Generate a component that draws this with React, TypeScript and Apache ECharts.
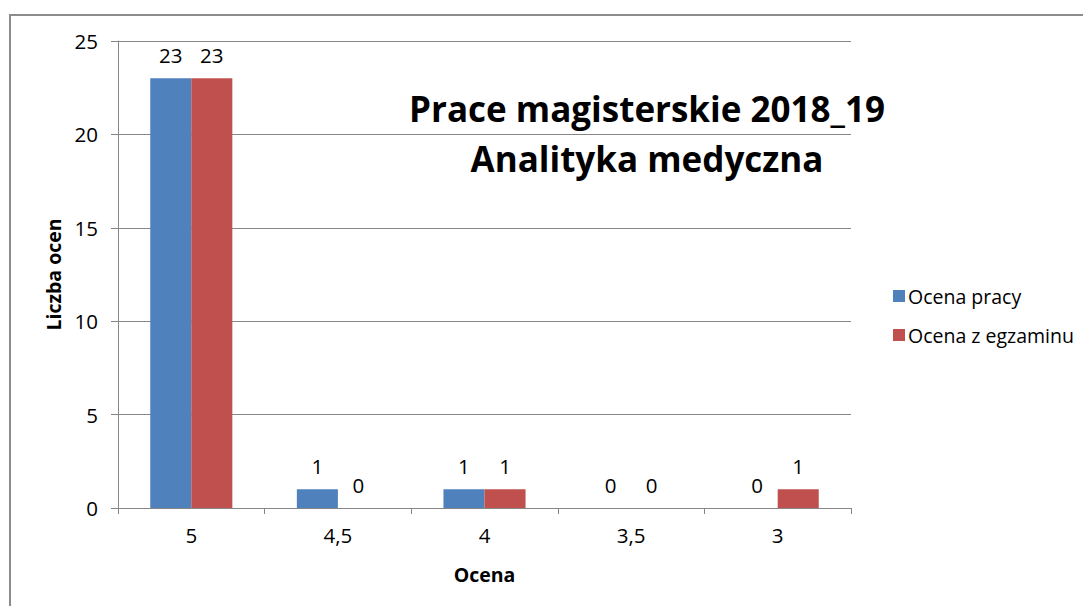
import React, { useEffect, useRef } from "react";
import * as echarts from "echarts";

const categories = ["5", "4,5", "4", "3,5", "3"];
const ocenaPracy = [23, 1, 1, 0, 0];
const ocenaEgzaminu = [23, 0, 1, 0, 1];
const seriesNames = ["Ocena pracy", "Ocena z egzaminu"];
const titleLines = ["Prace magisterskie 2018_19", "Analityka medyczna"];
const yAxisName = "Liczba ocen";
const xAxisName = "Ocena";

const FONT = "Open Sans";

export default function App() {
  const ref = useRef<HTMLDivElement>(null);
  useEffect(() => {
    const chart = echarts.init(ref.current!, null, { renderer: "svg" });
    const label = {
      show: true,
      position: "top" as const,
      distance: 13,
      color: "#000",
      fontSize: 20.5,
      fontFamily: FONT,
    };
    chart.setOption({
      animation: false,
      backgroundColor: "#fff",
      graphic: [
        {
          type: "rect",
          shape: { x: 10, y: 15, width: 1100, height: 620 },
          style: { fill: "none", stroke: "#8c8c8c", lineWidth: 2 },
          silent: true,
        },
      ],
      title: {
        text: titleLines.join("\n"),
        left: 642,
        top: 78,
        textAlign: "center",
        textStyle: {
          fontFamily: FONT,
          fontWeight: "bold",
          fontSize: 35,
          lineHeight: 50,
          color: "#000",
        },
      },
      legend: {
        orient: "vertical",
        left: 888,
        top: 281,
        itemWidth: 12,
        itemHeight: 12,
        itemGap: 19,
        icon: "rect",
        textStyle: { fontFamily: FONT, fontSize: 19.5, color: "#000", padding: [0, 0, 0, -2] },
        data: seriesNames,
      },
      grid: { left: 118, right: 232, top: 41, bottom: 98 },
      xAxis: {
        type: "category",
        data: categories,
        name: xAxisName,
        nameLocation: "middle",
        nameGap: 56,
        nameTextStyle: { fontFamily: FONT, fontWeight: "bold", fontSize: 19.5, color: "#000" },
        axisLine: { lineStyle: { color: "#868686", width: 1 } },
        axisTick: { show: true, length: 6, lineStyle: { color: "#868686" } },
        axisLabel: { fontFamily: FONT, fontSize: 20.5, color: "#000", margin: 16 },
      },
      yAxis: {
        type: "value",
        min: 0,
        max: 25,
        interval: 5,
        name: yAxisName,
        nameLocation: "middle",
        nameGap: 50,
        nameRotate: 90,
        nameTextStyle: { fontFamily: FONT, fontWeight: "bold", fontSize: 19.5, color: "#000" },
        axisLine: { show: true, lineStyle: { color: "#868686", width: 1 } },
        axisTick: { show: true, length: 7, lineStyle: { color: "#868686" } },
        splitLine: { lineStyle: { color: "#868686", width: 1 } },
        axisLabel: { fontFamily: FONT, fontSize: 20.5, color: "#000", margin: 20 },
      },
      series: [
        {
          name: seriesNames[0],
          type: "bar",
          data: ocenaPracy,
          itemStyle: { color: "#4f81bd" },
          barGap: "0%",
          barCategoryGap: "44%",
          label,
        },
        {
          name: seriesNames[1],
          type: "bar",
          data: ocenaEgzaminu,
          itemStyle: { color: "#c0504d" },
          label,
        },
      ],
    });
    return () => chart.dispose();
  }, []);
  return (
    <div
      ref={ref}
      style={{ position: "fixed", left: 0, top: 0, width: 1083, height: 606 }}
    />
  );
}
